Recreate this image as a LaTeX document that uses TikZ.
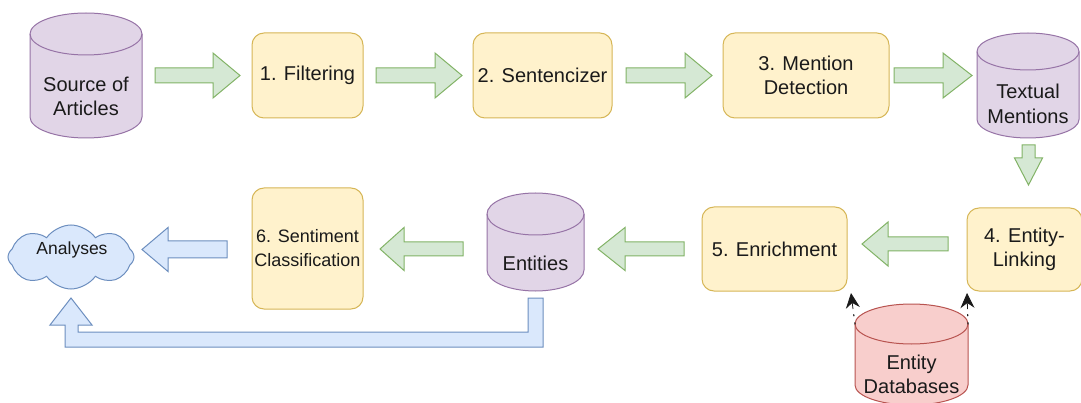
\documentclass[tikz,border=0pt]{standalone}
\usepackage{fontspec}
\setmainfont{Liberation Sans}
\usetikzlibrary{shapes.symbols,arrows.meta}
\definecolor{purF}{HTML}{E1D5E7}\definecolor{purS}{HTML}{9673A6}
\definecolor{yelF}{HTML}{FFF2CC}\definecolor{yelS}{HTML}{D6B656}
\definecolor{grnF}{HTML}{D5E8D4}\definecolor{grnS}{HTML}{82B366}
\definecolor{bluF}{HTML}{DAE8FC}\definecolor{bluS}{HTML}{6C8EBF}
\definecolor{redF}{HTML}{F8CECC}\definecolor{redS}{HTML}{B85450}
\definecolor{ink}{HTML}{1A1A1A}
\tikzset{
  txt/.style={font=\fontsize{20}{24.5}\selectfont, text=ink, align=center, inner sep=0pt},
  stepbox/.style={draw=yelS, fill=yelF, line width=1pt, rounded corners=12pt, txt, outer sep=0pt},
  purcyl/.style={draw=purS, fill=purF, line width=1pt},
  redcyl/.style={draw=redS, fill=redF, line width=1pt},
  grnarr/.style={draw=grnS, fill=grnF, line width=1pt, line join=miter},
  bluarr/.style={draw=bluS, fill=bluF, line width=1pt, line join=miter},
  dbline/.style={ink, line width=1.2pt, dash pattern=on 1.2pt off 7pt, line cap=round},
  dbhead/.style={ink, line width=0.8pt, -{Stealth[length=15pt,width=14pt,inset=5pt]}}
}
% cylinder: #1 name, #2 L, #3 T, #4 R, #5 B, #6 ry, #7 style, #8 text (pixel coords, y downward)
\newcommand\dbcyl[8]{%
  \pgfmathsetmacro\rxx{(#4-#2)/2}%
  \path[#7] (#2,{-(#3+#6)}) -- (#2,{-(#5-#6)})
     arc[start angle=180,end angle=360,x radius=\rxx pt,y radius=#6 pt]
     -- (#4,{-(#3+#6)})
     arc[start angle=0,end angle=180,x radius=\rxx pt,y radius=#6 pt] -- cycle;
  \draw[#7,fill=none] (#2,{-(#3+#6)}) arc[start angle=180,end angle=360,x radius=\rxx pt,y radius=#6 pt];
  \node[txt] (#1) at ({(#2+#4)/2},{-(#3+2*#6+#5)/2}) {#8};
}
% horizontal block arrow: #1 tail x, #2 head base x, #3 tip x, #4 centre y, #5 shaft half, #6 head half, #7 style
\newcommand\harr[7]{%
  \path[#7] (#1,{-(#4-#5)}) -- (#2,{-(#4-#5)}) -- (#2,{-(#4-#6)}) -- (#3,{-(#4)})
    -- (#2,{-(#4+#6)}) -- (#2,{-(#4+#5)}) -- (#1,{-(#4+#5)}) -- cycle;}
% vertical block arrow: #1 tail y, #2 head base y, #3 tip y, #4 centre x, #5 shaft half, #6 head half, #7 style
\newcommand\varr[7]{%
  \path[#7] ({#4-#5},-#1) -- ({#4-#5},-#2) -- ({#4-#6},-#2) -- (#4,-#3)
    -- ({#4+#6},-#2) -- ({#4+#5},-#2) -- ({#4+#5},-#1) -- cycle;}
\begin{document}
\begin{tikzpicture}[x=1pt,y=1pt]
\fill[white] (0,0) rectangle (1081,-403);
\useasboundingbox (0,0) rectangle (1081,-403);

% top row
\dbcyl{src}{30}{13}{142}{138}{21}{purcyl}{Source of\\Articles}
\node[stepbox, minimum width=111pt, minimum height=85pt] (filt) at (307.5,-75.5) {1. Filtering};
\node[stepbox, minimum width=139pt, minimum height=85pt] (sent) at (542.5,-75.5) {2. Sentencizer};
\node[stepbox, minimum width=166pt, minimum height=85pt] (ment) at (806,-75.5) {3. Mention\\Detection};
\dbcyl{tm}{977}{33}{1079}{138}{18.5}{purcyl}{Textual\\Mentions}

\harr{155}{213}{240}{75.5}{7.5}{22.5}{grnarr}
\harr{376}{435}{462}{75.5}{7.5}{22.5}{grnarr}
\harr{626}{685}{712}{75.5}{7.5}{22.5}{grnarr}
\harr{894}{943}{972}{75.5}{7.5}{22.5}{grnarr}
\varr{145}{158}{185}{1028.5}{6.5}{14}{grnarr}

% second row
\node[stepbox, minimum width=115pt, minimum height=83pt] (link) at (1024.5,-249.5) {4. Entity-\\Linking};
\node[stepbox, minimum width=145pt, minimum height=84pt] (enr) at (774.5,-249) {5. Enrichment};
\dbcyl{ent}{487}{193}{584}{291}{21}{purcyl}{Entities}
\node[stepbox, minimum width=111pt, minimum height=121pt, font=\fontsize{18}{24}\selectfont] (senti) at (307.5,-248.5) {6. Sentiment\\Classification};
\node[cloud, cloud puffs=8, cloud puff arc=110, cloud ignores aspect, draw=bluS, fill=bluF, line width=1pt, minimum width=126pt, minimum height=64pt, inner sep=0pt] (ana) at (71,-257) {};
\node[txt, font=\fontsize{17.5}{21}\selectfont] (anatxt) at (72,-250) {Analyses};

\harr{948}{888}{862}{244}{7}{22}{grnarr}
\harr{684}{625}{598}{249}{7}{21.5}{grnarr}
\harr{463}{404}{380}{249}{7}{21.5}{grnarr}
\harr{227}{168}{142}{249.5}{8.5}{22}{bluarr}

% feedback from Entities to Analyses
\path[bluarr] (528,-298) -- (543,-298) -- (543,-347) -- (65,-347) -- (65,-325) -- (50,-325)
  -- (71,-298) -- (92,-325) -- (78,-325) -- (78,-332) -- (528,-332) -- cycle;

% entity databases
\dbcyl{edb}{855}{304}{968}{405}{20}{redcyl}{Entity\\Databases}
\coordinate (dbL) at (855,-324);
\coordinate (dbR) at (968,-324);
\coordinate (midL) at (853,-309);
\coordinate (midR) at (967.5,-309);
\coordinate (tipL) at (851,-293);
\coordinate (tipR) at (967,-293);
\draw[dbline] (dbL) -- (midL);
\draw[dbline] (dbR) -- (midR);
\draw[dbhead] (midL) -- (tipL);
\draw[dbhead] (midR) -- (tipR);
\end{tikzpicture}
\end{document}
